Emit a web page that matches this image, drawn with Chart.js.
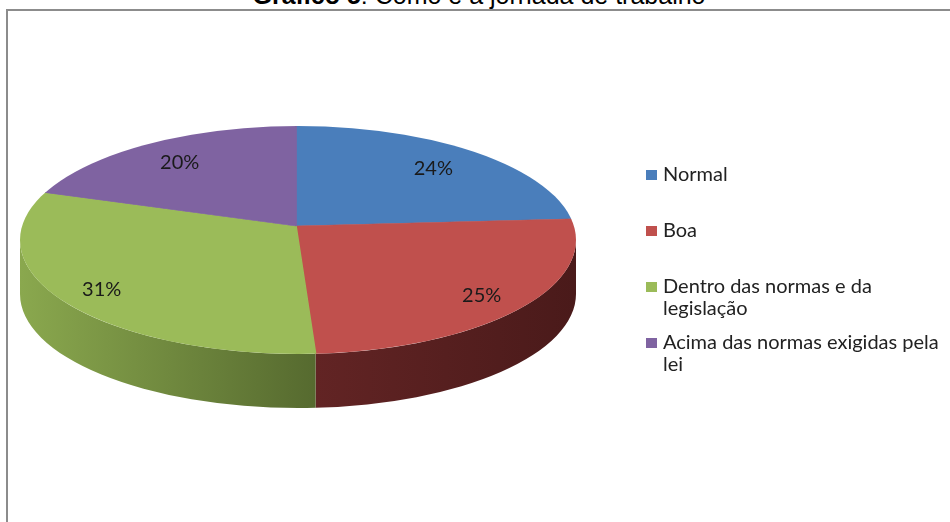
<!DOCTYPE html>
<html>
<head>
<meta charset="utf-8">
<script src="https://cdn.jsdelivr.net/npm/chart.js@4/dist/chart.umd.min.js"></script>
<style>
  html, body { margin: 0; padding: 0; width: 950px; height: 522px; overflow: hidden; background: #ffffff; }
  #title {
    position: absolute; left: 4px; top: -17px; width: 950px; text-align: center;
    font-family: "Liberation Sans", Arial, sans-serif; font-size: 25px; line-height: 25px;
    color: #000; white-space: nowrap;
  }
  #frame {
    position: absolute; left: 6px; top: 9px; width: 1000px; height: 600px;
    border: 2px solid #8c8c8c; background: #ffffff;
  }
  #chart { position: absolute; left: 0; top: 0; }
</style>
</head>
<body>
<div id="frame"></div>
<div id="title"><b>Gráfico 5</b>: Como é a jornada de trabalho</div>
<canvas id="chart" width="950" height="522"></canvas>
<script>
// Categories (each entry lists the lines of its legend text)
const categories = [
  ['Normal'],
  ['Boa'],
  ['Dentro das normas e da', 'legislação'],
  ['Acima das normas exigidas pela', 'lei']
];
// Share of answers, in percent
const shares = [24, 25, 31, 20];
// Colours of the top face and of the rim (left → right gradient)
const topColors = ['#4a7ebb', '#c0504d', '#9bbb59', '#7f63a1'];
const rimColors = [
  ['#2f4e74', '#2f4e74'],
  ['#622424', '#4a1a1a'],
  ['#8aa84e', '#566a2f'],
  ['#4c3b61', '#4c3b61']
];

// Tilted disc: top face ellipse, hub of the slices, rim thickness
const disk = { cx: 298, cy: 240, rx: 278, ry: 114, hubX: 296, hubY: 226, depth: 54, over: 1.2 };
const labelFont = '20px Lato, "Open Sans", sans-serif';

// Angle on the rim ellipse where a slice edge leaving the hub meets the rim
function rimAngle(theta) {
  const ax = Math.cos(theta), ay = Math.sin(theta);
  const bx = (disk.hubX - disk.cx) / disk.rx, by = (disk.hubY - disk.cy) / disk.ry;
  const A = ax * ax + ay * ay, B = 2 * (ax * bx + ay * by), C = bx * bx + by * by - 1;
  const t = (-B + Math.sqrt(B * B - 4 * A * C)) / (2 * A);
  let phi = Math.atan2(by + t * ay, bx + t * ax);
  if (phi < -Math.PI / 2 - 1e-9) phi += 2 * Math.PI;
  return phi;
}

const tiltedPie = {
  id: 'tiltedPie',
  beforeDatasetsDraw(chart) {
    const ctx = chart.ctx;
    const arcs = chart.getDatasetMeta(0).data;
    // rim of the disc (front half only)
    arcs.forEach((arc, i) => {
      let s = rimAngle(arc.startAngle), e = rimAngle(arc.endAngle);
      if (e <= s) e += 2 * Math.PI;
      const a0 = Math.max(s, 0), a1 = Math.min(e, Math.PI);
      if (a1 <= a0) return;
      const x0 = disk.cx + disk.rx * Math.cos(a1), x1 = disk.cx + disk.rx * Math.cos(a0);
      const g = ctx.createLinearGradient(x0, 0, x1, 0);
      g.addColorStop(0, rimColors[i][0]);
      g.addColorStop(1, rimColors[i][1]);
      ctx.save();
      ctx.beginPath();
      ctx.ellipse(disk.cx, disk.cy, disk.rx, disk.ry, 0, a0, a1, false);
      ctx.ellipse(disk.cx, disk.cy + disk.depth, disk.rx, disk.ry, 0, a1, a0, true);
      ctx.closePath();
      ctx.fillStyle = g;
      ctx.fill();
      ctx.restore();
    });
    // top face: the library's arcs, flattened into the ellipse
    const a = arcs[0];
    ctx.save();
    ctx.beginPath();
    ctx.ellipse(disk.cx, disk.cy, disk.rx, disk.ry, 0, 0, Math.PI * 2);
    ctx.clip();
    ctx.translate(disk.hubX, disk.hubY);
    ctx.scale(disk.rx * disk.over / a.outerRadius, disk.ry * disk.over / a.outerRadius);
    ctx.translate(-a.x, -a.y);
  },
  afterDatasetsDraw(chart) {
    const ctx = chart.ctx;
    ctx.restore();
    const arcs = chart.getDatasetMeta(0).data;
    const values = chart.data.datasets[0].data;
    const total = values.reduce((p, v) => p + v, 0);
    // percentage labels
    ctx.save();
    ctx.font = labelFont;
    ctx.fillStyle = '#1a1a1a';
    ctx.textAlign = 'center';
    ctx.textBaseline = 'middle';
    arcs.forEach((arc, i) => {
      const m = (arc.startAngle + arc.endAngle) / 2;
      const f = 0.81 * (1 + 0.15 * Math.sin(m));
      const x = disk.hubX + f * disk.rx * Math.cos(m);
      const y = disk.hubY + 2 + f * disk.ry * Math.sin(m);
      ctx.fillText(Math.round(values[i] / total * 100) + '%', x, y);
    });
    ctx.restore();
  },
  afterDraw(chart) {
    // legend on the right
    const ctx = chart.ctx;
    const colors = chart.data.datasets[0].backgroundColor;
    ctx.save();
    ctx.font = labelFont;
    ctx.textBaseline = 'middle';
    chart.data.labels.forEach((lines, i) => {
      const y = 175 + 56 * i;
      ctx.fillStyle = colors[i];
      ctx.fillRect(646, y - 5, 11, 10);
      ctx.fillStyle = '#222';
      lines.forEach((line, j) => ctx.fillText(line, 663, y + 22 * j));
    });
    ctx.restore();
  }
};

new Chart(document.getElementById('chart'), {
  type: 'pie',
  data: {
    labels: categories,
    datasets: [{
      data: shares,
      backgroundColor: topColors,
      borderColor: topColors,
      borderWidth: 1,
      clip: false
    }]
  },
  options: {
    responsive: false,
    animation: false,
    events: [],
    layout: { padding: { left: 100, right: 450, top: 61, bottom: 61 } },
    plugins: { legend: { display: false }, tooltip: { enabled: false }, title: { display: false } }
  },
  plugins: [tiltedPie]
});
</script>
</body>
</html>
